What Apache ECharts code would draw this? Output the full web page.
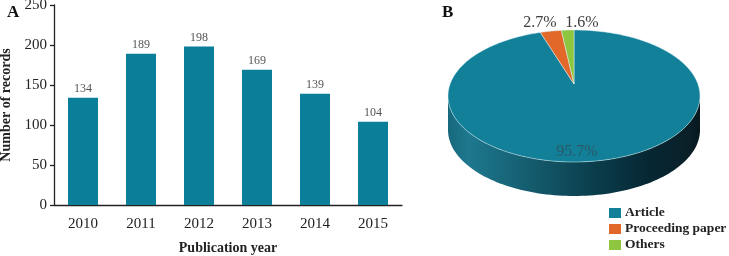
<!DOCTYPE html>
<html><head><meta charset="utf-8">
<script src="https://cdn.jsdelivr.net/npm/echarts/dist/echarts.min.js"></script>
<style>html,body{margin:0;padding:0;background:#fff}#c{width:729px;height:256px}</style>
</head><body><div id="c"></div>
<script>
// ---- data ----
const years = ['2010', '2011', '2012', '2013', '2014', '2015'];
const records = [134, 189, 198, 169, 139, 104];
const yTicks = [0, 50, 100, 150, 200, 250];
const docTypes = ['Article', 'Proceeding paper', 'Others'];
const docShares = [95.7, 2.7, 1.6];

// ---- style / layout ----
const FONT = '"Liberation Serif","Times New Roman",serif';
const BAR = '#0b7e9a';
const PIE_COLORS = ['#13809a', '#e2682a', '#8fc640'];
const PIE = { cx: 574, cy: 96, rx: 126, ry: 66, apexY: 84, depth: 34 };
const LABEL_POS = [[577, 152], [540, 23], [582, 23]];
const LABEL_COLORS = ['#2a5866', '#404040', '#404040'];

const total = docShares.reduce((a, b) => a + b, 0);
let cum = 0;
const slices = docShares.map(v => { const s = cum / total; cum += v; return [s, cum / total, v]; });

function ellPt(t, dy) {
  const a = t * 2 * Math.PI;
  return [PIE.cx + PIE.rx * Math.sin(a), PIE.cy - PIE.ry * Math.cos(a) + (dy || 0)];
}
function arc(t0, t1, dy, n) {
  const pts = [];
  for (let i = 0; i <= n; i++) pts.push(ellPt(t0 + (t1 - t0) * i / n, dy));
  return pts;
}
const sideGradient = new echarts.graphic.LinearGradient(0, 0, 1, 0, [
  { offset: 0, color: '#17687c' },
  { offset: 0.08, color: '#1e788e' },
  { offset: 0.35, color: '#13596b' },
  { offset: 0.6, color: '#0a3b49' },
  { offset: 0.8, color: '#062733' },
  { offset: 0.95, color: '#0a2029' },
  { offset: 1, color: '#07181f' }
]);

function renderSlice(idx) {
  return function (params, api) {
    const t0 = api.value(0), t1 = api.value(1), v = api.value(2);
    const children = [];
    const s0 = Math.max(t0, 0.25), s1 = Math.min(t1, 0.75);
    if (s1 > s0) {
      const top = arc(s0, s1, 0, 100);
      const bot = arc(s1, s0, PIE.depth, 100);
      children.push({ type: 'polygon', shape: { points: top.concat(bot) }, style: { fill: sideGradient }, z2: 1 });
    }
    const pts = [[PIE.cx, PIE.apexY]].concat(arc(t0, t1, 0, Math.max(4, Math.ceil((t1 - t0) * 300))));
    children.push({ type: 'polygon', shape: { points: pts },
      style: { fill: PIE_COLORS[idx], stroke: 'rgba(220,240,245,0.7)', lineWidth: 0.7 }, z2: 2 });
    children.push({ type: 'text', z2: 3, style: {
      text: v.toFixed(1) + '%', x: LABEL_POS[idx][0], y: LABEL_POS[idx][1],
      align: 'center', verticalAlign: 'middle', font: '16px ' + FONT, fill: LABEL_COLORS[idx] } });
    return { type: 'group', children };
  };
}

const pieSeries = docTypes.map((name, i) => ({
  type: 'custom', name, coordinateSystem: 'none',
  itemStyle: { color: PIE_COLORS[i] },
  data: [slices[i]],
  renderItem: renderSlice(i)
}));

const chart = echarts.init(document.getElementById('c'), null, { renderer: 'canvas' });
chart.setOption({
  animation: false,
  backgroundColor: '#fff',
  textStyle: { fontFamily: FONT },
  title: [
    { text: 'A', left: 2, top: -1, textStyle: { fontSize: 17, fontWeight: 'bold', fontFamily: FONT, color: '#111' } },
    { text: 'B', left: 437, top: -1, textStyle: { fontSize: 17, fontWeight: 'bold', fontFamily: FONT, color: '#111' } }
  ],
  legend: {
    data: docTypes, orient: 'vertical', left: 609, top: 206, padding: 0,
    icon: 'rect', itemWidth: 12, itemHeight: 10, itemGap: 2,
    textStyle: { fontFamily: FONT, fontWeight: 'bold', fontSize: 13.5, color: '#222', padding: [0, 0, 0, -1] }
  },
  grid: { left: 54, top: 5, width: 348, height: 200, outerBoundsMode: 'none', containLabel: false },
  xAxis: {
    type: 'category', data: years,
    axisLine: { lineStyle: { color: '#222', width: 1.3 } },
    axisTick: { show: false },
    axisLabel: { fontSize: 15, color: '#222', margin: 12, fontFamily: FONT },
    name: 'Publication year', nameLocation: 'middle', nameGap: 36,
    nameTextStyle: { fontSize: 14, fontWeight: 'bold', color: '#222', fontFamily: FONT }
  },
  yAxis: {
    type: 'value', min: yTicks[0], max: yTicks[yTicks.length - 1], interval: yTicks[1] - yTicks[0],
    axisLine: { show: true, lineStyle: { color: '#222', width: 1.3 } },
    axisTick: { show: true, length: 4, lineStyle: { color: '#222', width: 1.3 } },
    splitLine: { show: false },
    axisLabel: { fontSize: 15, color: '#222', margin: 7, fontFamily: FONT },
    name: 'Number of records', nameLocation: 'middle', nameGap: 41, nameRotate: 90,
    nameTextStyle: { fontSize: 14, fontWeight: 'bold', color: '#222', fontFamily: FONT }
  },
  series: [{
    type: 'bar', data: records, barWidth: 30,
    itemStyle: { color: BAR },
    label: { show: true, position: 'top', distance: 3, color: '#555', fontSize: 12, fontFamily: FONT }
  }].concat(pieSeries)
});
</script>
</body></html>
